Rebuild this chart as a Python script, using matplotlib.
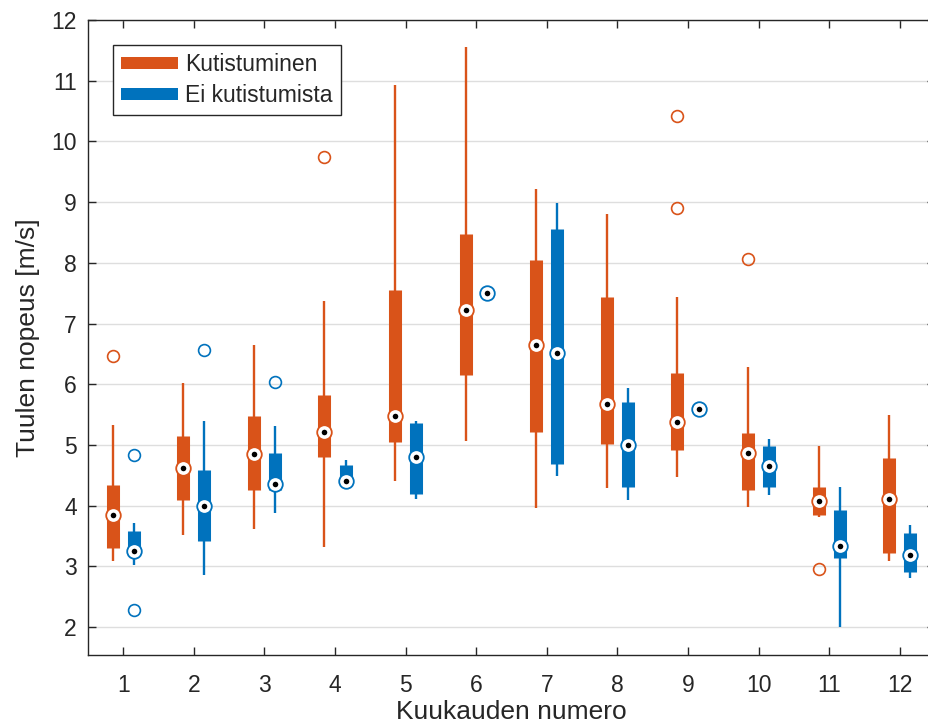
import numpy as np
import matplotlib
matplotlib.use('Agg')
from matplotlib import pyplot as plt
from matplotlib.patches import Patch

plt.rcParams['font.family'] = ['Liberation Sans', 'DejaVu Sans']

months = np.arange(1, 13)

# Kutistuminen: whisker low, q1, median, q3, whisker high
kut_lo = [3.09, 3.52, 3.62, 3.32, 4.41, 5.06, 3.96, 4.29, 4.48, 3.98, 3.82, 3.09]
kut_q1 = [3.31, 4.10, 4.25, 4.80, 5.05, 6.16, 5.21, 5.01, 4.92, 4.26, 3.85, 3.22]
kut_med = [3.84, 4.62, 4.85, 5.21, 5.48, 7.23, 6.65, 5.67, 5.38, 4.87, 4.07, 4.11]
kut_q3 = [4.34, 5.15, 5.48, 5.82, 7.55, 8.48, 8.04, 7.44, 6.19, 5.20, 4.31, 4.78]
kut_hi = [5.33, 6.02, 6.65, 7.37, 10.93, 11.55, 9.22, 8.80, 7.43, 6.29, 4.98, 5.49]
kut_out = [[6.47], [], [], [9.75], [], [], [], [], [8.91, 10.42], [8.07], [2.96], []]

# Ei kutistumista
ei_lo = [3.02, 2.86, 3.88, 4.35, 4.11, 7.51, 4.49, 4.09, 5.59, 4.17, 2.00, 2.81]
ei_q1 = [3.20, 3.42, 4.25, 4.35, 4.19, 7.51, 4.68, 4.31, 5.59, 4.31, 3.13, 2.90]
ei_med = [3.25, 4.00, 4.35, 4.40, 4.80, 7.51, 6.52, 5.00, 5.59, 4.66, 3.33, 3.19]
ei_q3 = [3.59, 4.58, 4.87, 4.67, 5.36, 7.51, 8.56, 5.70, 5.59, 4.98, 3.93, 3.55]
ei_hi = [3.71, 5.39, 5.31, 4.76, 5.40, 7.51, 8.98, 5.93, 5.59, 5.09, 4.31, 3.68]
ei_out = [[4.84, 2.28], [6.57], [6.04], [], [], [], [], [], [], [], [], []]

orange = '#D95319'
blue = '#0072BD'
txt = '#262626'


def draw_group(ax, x, lo, q1, med, q3, hi, out, color):
    ax.vlines(x, lo, hi, colors=color, linewidth=1.7, capstyle='butt', zorder=2)
    ax.vlines(x, q1, q3, colors=color, linewidth=9.4, capstyle='butt', zorder=3)
    ax.plot(x, med, 'o', ms=10.5, mfc='white', mec=color, mew=1.3, zorder=4)
    ax.plot(x, med, 'o', ms=4, mfc='black', mec='black', mew=0, zorder=5)
    for xi, vals in zip(x, out):
        if vals:
            ax.plot([xi] * len(vals), vals, 'o', ms=8.5, mfc='none', mec=color,
                    mew=1.2, zorder=4)


fig = plt.figure(figsize=(9.29, 7.27), dpi=100)
ax = fig.add_axes([88 / 929, 72 / 727, 847 / 929, 635 / 727])

draw_group(ax, months - 0.15, kut_lo, kut_q1, kut_med, kut_q3, kut_hi, kut_out, orange)
draw_group(ax, months + 0.15, ei_lo, ei_q1, ei_med, ei_q3, ei_hi, ei_out, blue)

ax.set_xlim(0.5, 12.5)
ax.set_ylim(1.54, 12)
ax.set_xticks(months)
ax.set_yticks(np.arange(2, 13))
ax.yaxis.grid(True, color='#DEDEDE', linewidth=1.0, zorder=0)
ax.set_axisbelow(True)

ax.tick_params(direction='in', length=6, width=1.0, colors=txt, labelsize=16.5,
               top=True, right=True)
ax.tick_params(axis='x', pad=14)
ax.tick_params(axis='y', pad=8)
for s in ax.spines.values():
    s.set_color(txt)
    s.set_linewidth(1.0)

ax.set_xlabel('Kuukauden numero', fontsize=19, color=txt, labelpad=2)
ax.set_ylabel('Tuulen nopeus [m/s]', fontsize=19, color=txt, labelpad=8)

handles = [Patch(facecolor=orange, edgecolor='none'), Patch(facecolor=blue, edgecolor='none')]
leg = ax.legend(handles, ['Kutistuminen', 'Ei kutistumista'], loc='upper left',
                bbox_to_anchor=(0.0295, 0.9606), borderaxespad=0, fontsize=16.5,
                fancybox=False, framealpha=1, edgecolor=txt, handlelength=2.5,
                handleheight=0.45, handletextpad=0.3, labelspacing=0.35,
                borderpad=0.35)
leg.get_frame().set_linewidth(1.0)
for t in leg.get_texts():
    t.set_color(txt)

fig.savefig('out.png', dpi=100)
